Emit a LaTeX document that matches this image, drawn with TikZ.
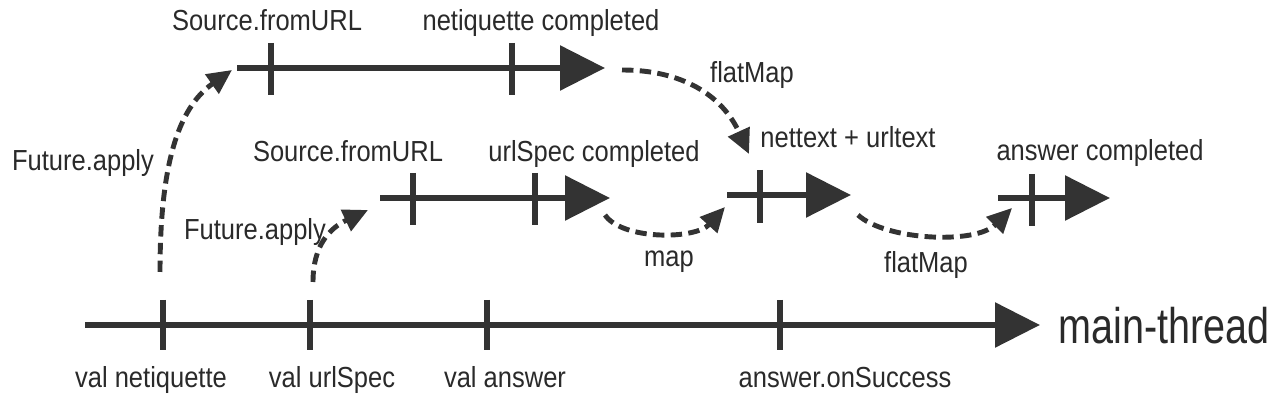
\documentclass[tikz,border=0pt]{standalone}
\usepackage{fontspec}
\setmainfont{Liberation Sans}
\usetikzlibrary{arrows.meta}
\definecolor{ink}{HTML}{333333}
\definecolor{txt}{HTML}{2a2a2a}
\begin{document}
\begin{tikzpicture}[x=0.02cm,y=-0.02cm,
  thread/.style={draw=ink, line width=3.4pt, -{Triangle[length=25.6pt,width=25pt]}},
  tickmark/.style={draw=ink, line width=3pt},
  hop/.style={draw=ink, line width=2.8pt, dash pattern=on 6.5pt off 3.6pt, -{Triangle[length=14pt,width=13pt]}},
  lbl/.style={text=txt, font=\fontsize{16.5}{19}\selectfont, xscale=0.88, inner sep=0pt, anchor=base},
  big/.style={text=txt, font=\fontsize{28.5}{32}\selectfont, xscale=0.79, inner sep=0pt, anchor=base}]
\useasboundingbox[fill=white] (0,0) rectangle (1280,404);

% main thread
\coordinate (m0) at (85,325);
\coordinate (m1) at (1040,325);
\draw[thread] (m0) -- (m1);
\foreach \n/\x in {a/163,b/310,c/487,d/780}{
  \coordinate (t\n) at (\x,325);
  \draw[tickmark] (\x,300) -- (\x,350);
}
\node[big] (mt) at (1164,344) {main-thread};
\node[lbl] (l1) at (151,388) {val netiquette};
\node[lbl] (l2) at (332,388) {val urlSpec};
\node[lbl] (l3) at (505,388) {val answer};
\node[lbl] (l4) at (845,388) {answer.onSuccess};

% top thread (netiquette)
\coordinate (n0) at (237,68);
\coordinate (n1) at (605,68);
\draw[thread] (n0) -- (n1);
\draw[tickmark] (271,43) -- (271,95);
\draw[tickmark] (512,43) -- (512,95);
\node[lbl] (s1) at (267,31) {Source.fromURL};
\node[lbl] (c1) at (541,31) {netiquette completed};

% urlSpec thread
\coordinate (u0) at (380,198);
\coordinate (u1) at (610,198);
\draw[thread] (u0) -- (u1);
\draw[tickmark] (413,173) -- (413,225);
\draw[tickmark] (535,173) -- (535,225);
\node[lbl] (s2) at (348,162) {Source.fromURL};
\node[lbl] (c2) at (594,162) {urlSpec completed};

% nettext + urltext thread
\coordinate (x0) at (727,195);
\coordinate (x1) at (851,195);
\draw[thread] (x0) -- (x1);
\draw[tickmark] (760,170) -- (760,223);
\node[lbl] (c3) at (848,148) {nettext + urltext};

% answer thread
\coordinate (a0) at (998,198);
\coordinate (a1) at (1110,198);
\draw[thread] (a0) -- (a1);
\draw[tickmark] (1032,174) -- (1032,226);
\node[lbl] (c4) at (1100,161) {answer completed};

% dashed hops
\coordinate (h1s) at (160,272);
\coordinate (h1e) at (232,70);
\draw[hop] (h1s) .. controls (160,165) and (178,108) .. (h1e);
\node[lbl] (f1) at (83,171) {Future.apply};

\coordinate (h2s) at (313,282);
\coordinate (h2e) at (368,210);
\draw[hop] (h2s) .. controls (313,245) and (330,228) .. (h2e);
\node[lbl] (f2) at (255,240) {Future.apply};

\coordinate (h3s) at (622,70);
\coordinate (h3e) at (749,154);
\draw[hop] (h3s) .. controls (682,70) and (722,95) .. (h3e);
\node[lbl] (fm1) at (752,83) {flatMap};

\coordinate (h4s) at (605,215);
\coordinate (h4e) at (725,207);
\draw[hop] (h4s) .. controls (622,240) and (695,240) .. (h4e);
\node[lbl] (mp) at (669,267) {map};

\coordinate (h5s) at (858,215);
\coordinate (h5e) at (1012,208);
\draw[hop] (h5s) .. controls (885,240) and (975,245) .. (h5e);
\node[lbl] (fm2) at (926,273) {flatMap};
\end{tikzpicture}
\end{document}
